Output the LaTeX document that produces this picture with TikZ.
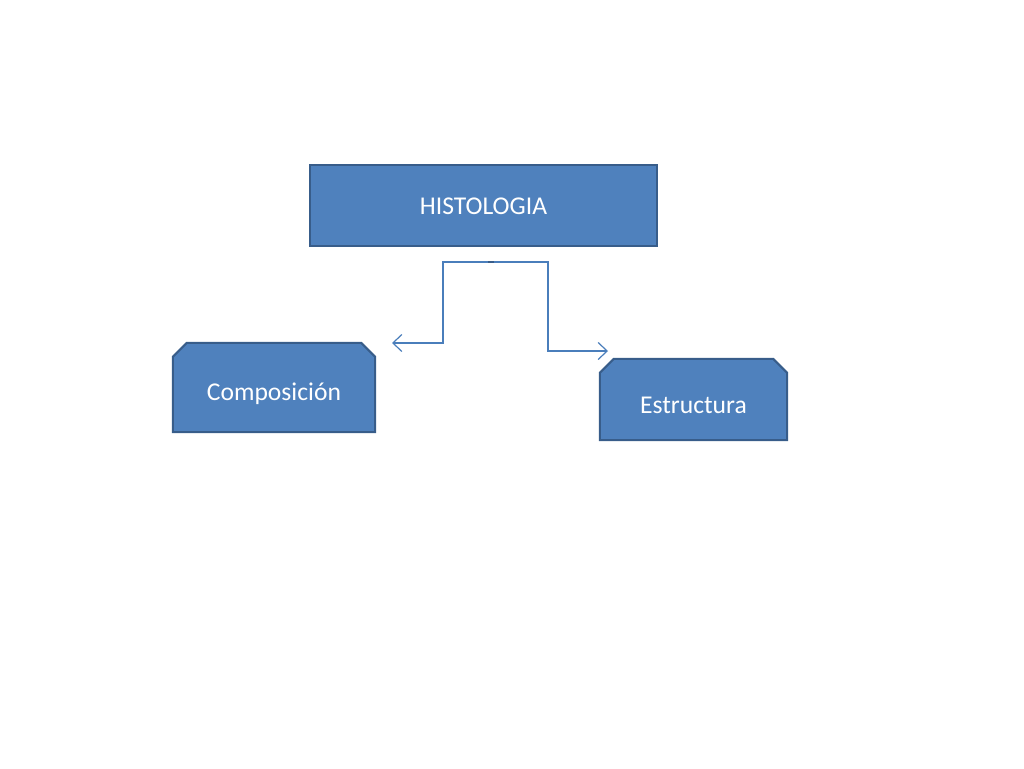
\documentclass[tikz,border=0pt]{standalone}
\usepackage{fontspec}
\setmainfont{Carlito}
\usetikzlibrary{arrows.meta}
\definecolor{boxfill}{HTML}{4F81BD}
\definecolor{boxline}{HTML}{385D8A}
\definecolor{conn}{HTML}{4A7EBB}
\tikzset{
  boxstyle/.style={fill=boxfill, draw=boxline, line width=2pt, line join=miter},
  mainbox/.style={rectangle, boxstyle,
    minimum width=347pt, minimum height=81pt, inner sep=0pt,
    text=white, font=\fontsize{25.6}{30}\selectfont, text depth=0pt},
  leafbox/.style={rectangle, inner sep=0pt},
  leaftext/.style={text=white, font=\fontsize{25.6}{30}\selectfont, yshift=-6pt},
  connline/.style={draw=conn, line width=1.2pt},
  connarrow/.style={connline, -{Straight Barb[length=9pt,width=17pt,line width=1.2pt]}},
}
\newcommand{\snipbox}[1]{%
  \path[boxstyle] (#1.south west) -- ([yshift=-14pt]#1.north west) -- ([xshift=14pt]#1.north west)
    -- ([xshift=-14pt]#1.north east) -- ([yshift=-14pt]#1.north east) -- (#1.south east) -- cycle;}
\begin{document}
\begin{tikzpicture}[x=1pt,y=-1pt]
\useasboundingbox (0,0) rectangle (1024,768);
\node[mainbox] (hist) at (483.5,205.5) {\raisebox{-2pt}{HISTOLOGIA}};
\node[leafbox, minimum width=202pt, minimum height=89pt] (comp) at (274,387.5) {};
\node[leafbox, minimum width=187pt, minimum height=81pt] (estr) at (693.5,399.5) {};
\snipbox{comp}
\snipbox{estr}
\node[leaftext] at (comp.center) {Composición};
\node[leaftext] at (estr.center) {Estructura};
\coordinate (split) at (491,262);
\coordinate (compend) at (392,343);
\coordinate (estrend) at (608,351);
\draw[connarrow] (split) -- (443,262) -- (443,343) -- (compend);
\draw[connarrow] (split) -- (548,262) -- (548,351) -- (estrend);
\draw[draw=boxline, line width=2pt] ([xshift=-3pt]split) -- ([xshift=3pt]split);
\end{tikzpicture}
\end{document}
